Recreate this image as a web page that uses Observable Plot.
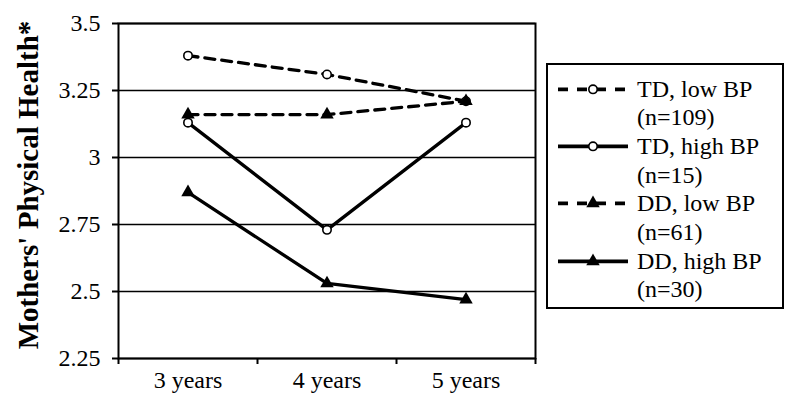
<!DOCTYPE html>
<html>
<head>
<meta charset="utf-8">
<script src="https://cdn.jsdelivr.net/npm/d3@7"></script>
<script src="https://cdn.jsdelivr.net/npm/@observablehq/plot@0.6"></script>
<style>
  html, body { margin: 0; padding: 0; background: #fff; }
  #wrap { position: relative; width: 800px; height: 414px; font-family: "Liberation Serif", "Times New Roman", serif; }
  #legend { position: absolute; left: 546px; top: 63px; width: 234px; height: 242px; border: 2px solid #000; box-sizing: content-box; padding-top: 0; font-size: 24px; color: #000; }
  .row { position: absolute; left: 10px; height: 28.7px; line-height: 28.7px; white-space: nowrap; }
  .row svg { position: absolute; left: 0; top: 0; }
  .row span { position: absolute; left: 79px; }
</style>
</head>
<body>
<div id="wrap"><div id="legend"></div></div>
<script>
const categories = ["3 years", "4 years", "5 years"];
const seriesNames = ["TD, low BP", "TD, high BP", "DD, low BP", "DD, high BP"];
const seriesN = ["(n=109)", "(n=15)", "(n=61)", "(n=30)"];
const tdLow = [3.38, 3.31, 3.21];
const tdHigh = [3.13, 2.73, 3.13];
const ddLow = [3.16, 3.16, 3.21];
const ddHigh = [2.87, 2.53, 2.47];
const yTicks = [2.25, 2.5, 2.75, 3, 3.25, 3.5];
const yTickLabels = ["2.25", "2.5", "2.75", "3", "3.25", "3.5"];

const seriesValues = [tdLow, tdHigh, ddLow, ddHigh];
const seriesDashed = [true, false, true, false];
const seriesSymbol = ["circle", "circle", "triangle", "triangle"];

const rows = [];
seriesNames.forEach((s, k) => {
  seriesValues[k].forEach((v, i) => rows.push({series: s, x: i + 0.5, y: v, k}));
});

const marks = [
  Plot.gridY(yTicks, {stroke: "#000", strokeOpacity: 1, strokeWidth: 1.6}),
  Plot.frame({stroke: "#000", strokeWidth: 2}),
  Plot.axisY(yTicks, {tickSize: 6, tickPadding: 12, fontSize: 24, tickFormat: (d) => yTickLabels[yTicks.indexOf(d)], label: null, stroke: "#000", strokeWidth: 2}),
  Plot.axisX([0, 1, 2, 3], {tickSize: 6, tickFormat: () => "", label: null, strokeWidth: 2}),
  Plot.axisX([0.5, 1.5, 2.5], {tickSize: 0, tickPadding: 12, fontSize: 24, tickFormat: (d) => categories[Math.floor(d)], label: null}),
  Plot.text(["Mothers' Physical Health*"], {frameAnchor: "left", textAnchor: "middle", lineAnchor: "middle", rotate: -90, dx: -90, dy: -6, fontSize: 29, fontWeight: "bold", fill: "#000"})
];
seriesNames.forEach((s, k) => {
  const d = rows.filter(r => r.k === k);
  marks.push(Plot.line(d, {x: "x", y: "y", stroke: "#000", strokeWidth: 3.3, strokeDasharray: seriesDashed[k] ? "10,7" : null}));
});
seriesNames.forEach((s, k) => {
  const d = rows.filter(r => r.k === k);
  if (seriesSymbol[k] === "circle") {
    marks.push(Plot.dot(d, {x: "x", y: "y", r: 4.2, fill: "#fff", stroke: "#000", strokeWidth: 1.6}));
  } else {
    marks.push(Plot.dot(d, {x: "x", y: "y", r: 5, symbol: "triangle", fill: "#000", stroke: "none"}));
  }
});

const chart = Plot.plot({
  width: 800,
  height: 414,
  marginLeft: 118,
  marginRight: 265,
  marginTop: 23,
  marginBottom: 56,
  style: {fontFamily: '"Liberation Serif", "Times New Roman", serif', color: "#000", background: "#fff", overflow: "visible"},
  x: {type: "linear", domain: [0, 3]},
  y: {domain: [2.25, 3.5]},
  marks
});
document.getElementById("wrap").prepend(chart);

// legend
const legend = document.getElementById("legend");
const lineH = 28.7;
const top0 = 9.5;
seriesNames.forEach((s, k) => {
  const r1 = document.createElement("div");
  r1.className = "row";
  r1.style.top = (top0 + 2 * k * lineH) + "px";
  const dash = seriesDashed[k] ? 'stroke-dasharray="10,9" stroke-dashoffset="0"' : "";
  const marker = seriesSymbol[k] === "circle"
    ? '<circle cx="35" cy="14.35" r="4.2" fill="#fff" stroke="#000" stroke-width="1.6"/>'
    : '<path transform="translate(35,14.35)" d="' + d3.symbol(d3.symbolTriangle, Math.PI * 5 * 5)() + '" fill="#000"/>';
  r1.innerHTML = '<svg width="72" height="29"><line x1="0" x2="70" y1="14.35" y2="14.35" stroke="#000" stroke-width="3.6" ' + dash + '/>' + marker + '</svg><span>' + s + '</span>';
  const r2 = document.createElement("div");
  r2.className = "row";
  r2.style.top = (top0 + (2 * k + 1) * lineH) + "px";
  r2.innerHTML = '<span>' + seriesN[k] + '</span>';
  legend.appendChild(r1);
  legend.appendChild(r2);
});
</script>
</body>
</html>
